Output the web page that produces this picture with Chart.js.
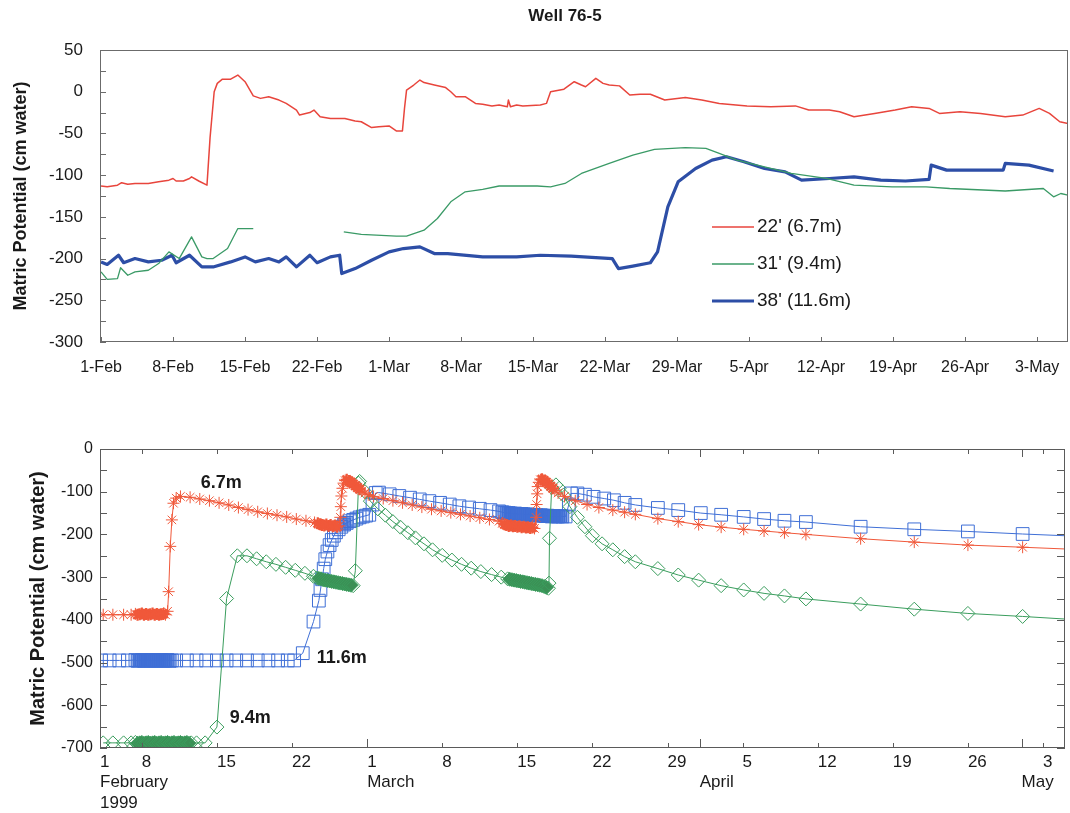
<!DOCTYPE html>
<html>
<head>
<meta charset="utf-8">
<title>Well 76-5 - Matric Potential</title>
<script src="https://cdn.jsdelivr.net/npm/chart.js@4.4.1/dist/chart.umd.min.js"></script>
<style>
  html, body { margin: 0; padding: 0; background: #fff; overflow: hidden; }
  #wrap { position: relative; width: 1070px; height: 813px; overflow: hidden; }
  canvas { position: absolute; left: 0; }
  #topo { top: 0; }
  #baixo { top: 400px; }
</style>
</head>
<body>
<div id="wrap">
  <canvas id="topo" width="1070" height="400"></canvas>
  <canvas id="baixo" width="1076" height="413"></canvas>
</div>
<script>
// ---- painel de cima: medidas (dias contados a partir de 1-Feb) ----
const topoDias22 = [0, 0.6, 1.6, 2.0, 2.6, 3.3, 4.6, 5.6, 6.6, 7.0, 7.3, 8.0, 8.6, 8.8, 9.5, 10.3, 10.6, 11.0, 11.3, 11.8, 12.6, 13.3, 14.0, 14.8, 15.5, 16.3, 17.3, 18.0, 19.0, 19.3, 20.3, 20.7, 21.3, 22.3, 23.7, 24.7, 25.3, 26.3, 27.0, 28.0, 28.7, 29.3, 29.5, 29.7, 30.4, 31.0, 31.4, 32.4, 33.5, 34.0, 34.5, 35.4, 36.4, 37.1, 38.0, 38.7, 39.5, 39.6, 39.8, 40.4, 41.0, 42.7, 43.3, 43.7, 45.0, 46.0, 46.7, 47.1, 48.1, 48.8, 49.4, 50.4, 51.4, 52.4, 53.4, 54.8, 56.8, 58.4, 60.1, 62.8, 65.1, 67.5, 68.8, 70.8, 71.8, 73.2, 75.2, 77.2, 78.8, 80.5, 81.5, 83.5, 85.5, 87.9, 89.6, 91.2, 92.2, 93.2, 94.0];
const topoValores22 = [-113, -114, -112, -109, -111, -110, -110, -108, -106, -104, -107, -107, -104, -102, -107, -112, -55, 0, 10, 15, 15, 20, 12, -5, -8, -6, -10, -14, -22, -28, -25, -22, -30, -32, -32, -35, -36, -43, -42, -41, -47, -47, -20, 2, 8, 14, 11, 8, 5, 0, -6, -6, -14, -15, -17, -16, -18, -10, -18, -16, -17, -16, -14, 0, 3, 12, 8, 6, 16, 10, 8, 7, -4, -3, -3, -10, -7, -10, -14, -17, -18, -17, -22, -22, -24, -30, -26, -22, -18, -20, -26, -24, -26, -30, -28, -20, -26, -36, -38];

const topoDias31 = [0, 0.6, 1.6, 1.9, 2.6, 3.3, 4.6, 5.6, 6.6, 7.6, 8.8, 9.8, 10.3, 10.9, 12.3, 13.3, 14.8, 14.9, 23.6, 25.3, 28.7, 29.7, 31.4, 32.7, 34.0, 35.4, 37.1, 38.7, 42.4, 43.7, 45.1, 46.7, 49.4, 51.7, 53.8, 56.8, 58.8, 60.1, 61.8, 64.5, 67.1, 70.5, 73.2, 76.9, 80.2, 82.5, 87.9, 91.6, 92.6, 93.3, 94.0];
const topoValores31 = [-216, -225, -224, -211, -220, -216, -214, -206, -192, -200, -174, -198, -200, -200, -188, -164, -164, null, -168, -171, -173, -173, -166, -152, -132, -120, -117, -113, -113, -114, -110, -98, -86, -76, -69, -67, -68, -74, -82, -90, -98, -104, -112, -114, -114, -116, -119, -116, -126, -122, -124];

const topoDias38 = [0, 0.6, 1.7, 2.2, 3.3, 4.6, 5.9, 6.9, 7.3, 8.6, 9.8, 10.9, 12.6, 14.0, 15.0, 16.3, 17.3, 18.0, 19.0, 20.3, 21.0, 22.3, 23.2, 23.4, 24.7, 26.3, 28.0, 29.4, 31.0, 32.4, 33.7, 37.1, 40.4, 42.7, 45.7, 49.7, 50.3, 51.7, 53.4, 54.1, 55.1, 56.1, 57.8, 59.4, 60.8, 62.5, 64.5, 66.5, 68.1, 70.8, 73.2, 75.8, 78.2, 80.5, 80.7, 82.2, 85.2, 87.7, 87.9, 90.2, 92.6];
const topoValores38 = [-204, -207, -196, -205, -200, -204, -202, -196, -205, -196, -210, -210, -204, -198, -204, -200, -204, -198, -210, -196, -205, -198, -196, -218, -212, -202, -192, -188, -186, -194, -194, -198, -198, -196, -197, -200, -212, -209, -205, -192, -138, -108, -92, -82, -78, -84, -92, -96, -106, -104, -102, -106, -107, -105, -88, -94, -94, -94, -86, -88, -95];

const topoTickDias = [0, 7, 14, 21, 28, 35, 42, 49, 56, 63, 70, 77, 84, 91];
const topoTickRotulos = ['1-Feb', '8-Feb', '15-Feb', '22-Feb', '1-Mar', '8-Mar', '15-Mar', '22-Mar', '29-Mar', '5-Apr', '12-Apr', '19-Apr', '26-Apr', '3-May'];

// ---- painel de baixo: modelo ----
const baixoDias67 = [3.4, 4.3, 5.3, 6.0,
  6.4, 6.6, 6.8, 7.0, 7.2, 7.4, 7.6, 7.8, 8.0, 8.2, 8.4, 8.6, 8.8, 9.0, 9.2,
  9.4, 9.5, 9.65, 9.8, 9.95, 10.2, 10.6,
  11.5, 12.4, 13.3, 14.2, 15.1, 16.0, 16.9, 17.8, 18.7, 19.6, 20.5, 21.4, 22.3, 23.1,
  23.4, 23.6, 23.8, 24.0, 24.2, 24.4, 24.6, 24.8, 25.0, 25.2, 25.4,
  25.5, 25.55, 25.6, 25.7, 25.8, 25.95, 26.1, 26.3, 26.5, 26.7, 26.9, 27.1, 27.3, 27.5, 27.8, 28.1,
  28.6, 29.5, 30.4, 31.3, 32.2, 33.1, 34.0, 34.9, 35.8, 36.7, 37.6, 38.5, 39.4, 40.3,
  40.6, 40.8, 41.0, 41.2, 41.4, 41.6, 41.8, 42.0, 42.2, 42.4, 42.6, 42.8, 43.0, 43.2, 43.4, 43.6,
  43.75, 43.8, 43.85, 43.9, 44.0, 44.15, 44.3, 44.5, 44.7, 44.9, 45.1, 45.3, 45.5, 45.8,
  46.4, 47.4, 48.5, 49.6, 50.9, 52.0, 53.0, 55.1, 57.0, 58.9, 61.0, 63.1, 65.0, 66.9, 68.9, 74.0, 79.0, 84.0, 89.1, 93.0];
const baixoValores67 = [-388, -388, -388, -388,
  -386, -388, -387, -385, -388, -386, -388, -387, -385, -388, -386, -388, -387, -386, -388,
  -380, -334, -228, -166, -127, -115, -111,
  -113, -117, -121, -126, -131, -137, -142, -147, -151, -155, -159, -164, -168, -172,
  -174, -176, -178, -179, -177, -180, -178, -181, -179, -182, -180,
  -160, -135, -110, -92, -80, -74, -72, -75, -78, -82, -86, -90, -94, -98, -103, -107,
  -111, -116, -121, -126, -131, -136, -141, -145, -149, -153, -157, -161, -165, -169,
  -174, -176, -178, -180, -179, -181, -180, -182, -181, -183, -182, -184, -183, -185, -184, -186,
  -160, -130, -105, -88, -78, -72, -71, -74, -78, -82, -87, -92, -97, -103,
  -111, -121, -130, -137, -143, -148, -153, -163, -170, -177, -183, -188, -192, -196, -200, -210, -218, -225, -230, -234];

const baixoDias116 = [3.2, 4.0, 4.9, 5.7,
  6.4, 6.6, 6.8, 7.0, 7.2, 7.4, 7.6, 7.8, 8.0, 8.2, 8.4, 8.6, 8.8, 9.0, 9.2, 9.4, 9.6, 9.8,
  10.2, 11.2, 12.1, 13.0, 14.0, 14.9, 15.8, 16.8, 17.8, 18.8, 19.7, 20.6, 21.2,
  22.0, 23.0, 23.5,
  23.65, 23.8, 23.95, 24.1, 24.3, 24.5, 24.7, 24.9, 25.1, 25.35, 25.6, 25.85, 26.1, 26.4, 26.7, 27.0, 27.3, 27.6, 27.9, 28.2,
  28.5, 28.8, 29.1,
  30.1, 31.0, 32.0, 32.9, 33.8, 34.8, 35.7, 36.6, 37.5, 38.5, 39.5, 40.3,
  40.6, 40.8, 41.0, 41.2, 41.4, 41.6, 41.8, 42.0, 42.2, 42.4, 42.6, 42.8, 43.0, 43.2, 43.4, 43.6, 43.8, 44.0, 44.2, 44.4, 44.6, 44.8, 45.0, 45.2, 45.4, 45.6, 45.8, 46.0, 46.2,
  46.5, 46.8, 47.0, 47.6, 48.3, 49.1, 50.1, 51.0, 52.0, 53.0, 55.1, 57.0, 59.1, 61.0, 63.1, 65.0, 66.9, 68.9, 74.0, 79.0, 84.0, 89.1, 93.0];
const baixoValores116 = [-495, -495, -495, -495,
  -494, -496, -495, -494, -496, -495, -494, -496, -495, -494, -496, -495, -494, -496, -495, -494, -496, -495,
  -495, -495, -495, -495, -495, -495, -495, -495, -495, -495, -495, -495, -495,
  -478, -404, -355,
  -330, -305, -280, -258, -240, -225, -213, -203, -195, -188, -182, -177, -173, -169, -166, -163, -160, -158, -156, -154,
  -130, -103, -102,
  -106, -110, -114, -118, -122, -126, -130, -134, -137, -140, -143, -146,
  -148, -149, -150, -150, -151, -152, -151, -152, -153, -152, -153, -154, -153, -154, -155, -154, -155, -156, -155, -156, -157, -156, -157, -158, -157, -158, -158, -157, -158,
  -158, -130, -104, -104, -107, -112, -116, -120, -126, -131, -138, -143, -150, -154, -159, -164, -168, -171, -182, -188, -193, -199, -203];

const baixoDias94 = [3.4, 4.3, 5.3, 6.0,
  6.4, 6.6, 6.8, 7.0, 7.2, 7.4, 7.6, 7.8, 8.0, 8.2, 8.4, 8.6, 8.8, 9.0, 9.2, 9.4, 9.6, 9.8, 10.0, 10.2, 10.4, 10.6, 10.8, 11.0, 11.2, 11.4, 11.6,
  12.1, 12.9, 14.0, 14.9, 15.9,
  16.8, 17.7, 18.6, 19.5, 20.4, 21.3, 22.2, 23.0,
  23.3, 23.5, 23.7, 23.9, 24.1, 24.3, 24.5, 24.7, 24.9, 25.1, 25.3, 25.5, 25.7, 25.9, 26.1, 26.3, 26.5, 26.7,
  26.9, 27.2, 27.3,
  27.8, 28.3, 29.0, 29.7, 30.4, 31.1, 31.8, 32.5, 33.3, 34.1, 35.0, 35.9, 36.8, 37.7, 38.6, 39.6, 40.5,
  41.1, 41.3, 41.5, 41.7, 41.9, 42.1, 42.3, 42.5, 42.7, 42.9, 43.1, 43.3, 43.5, 43.7, 43.9, 44.1, 44.3, 44.5, 44.7, 44.9,
  44.95, 45.0, 45.2, 45.6, 45.9, 46.3, 46.9, 47.6, 48.3, 49.0, 49.9, 50.9, 52.0, 53.0, 55.1, 57.0, 58.9, 61.0, 63.1, 65.0, 66.9, 68.9, 74.0, 79.0, 84.0, 89.1, 93.0];
const baixoValores94 = [-688, -688, -688, -688,
  -687, -689, -688, -687, -689, -688, -687, -689, -688, -687, -689, -688, -687, -689, -688, -687, -689, -688, -687, -689, -688, -687, -689, -688, -687, -689, -688,
  -688, -688, -651, -350, -250,
  -250, -257, -264, -270, -277, -284, -291, -298,
  -302, -303, -304, -306, -307, -308, -309, -310, -311, -312, -313, -314, -315, -316, -317, -318, -319, -320,
  -285, -80, -76,
  -100, -122, -140, -155, -170, -183, -196, -208, -222, -236, -249, -260, -270, -279, -287, -294, -300,
  -304, -305, -306, -307, -308, -309, -310, -311, -312, -313, -314, -315, -316, -317, -318, -319, -320, -322, -324, -326,
  -314, -209, -90, -84, -92, -108, -135, -160, -182, -203, -222, -236, -252, -264, -280, -295, -307, -320, -330, -338, -344, -351, -363, -375, -385, -392, -398];

const baixoTickDias = [3.1, 7, 14, 21, 28, 35, 42, 49, 56, 59, 63, 70, 77, 84, 89, 91];
const baixoTickRotulos = [['1', 'February', '1999'], ['8'], ['15'], ['22'], ['1', 'March'], ['8'], ['15'], ['22'], ['29'], ['', 'April'], ['5'], ['12'], ['19'], ['26'], ['', 'May'], ['3']];
const inicioDosMeses = [28, 59, 89];

// ---- configuracao geral ----
const fonte = '"Liberation Sans", Arial, Helvetica, sans-serif';
Chart.defaults.font.family = fonte;
Chart.defaults.color = '#1a1a1a';

function pares(dias, valores) {
  return dias.map((d, i) => ({ x: d, y: valores[i] }));
}

// ponto dentro de um bloco de saidas muito proximas (ficam como mancha cheia)
function denso(c) {
  const d = c.dataset.data, i = c.dataIndex;
  const p = d[i - 1], a = d[i], n = d[i + 1];
  if (!p || !a || !n) return false;
  return a.x - p.x < 0.3 && n.x - a.x < 0.3 && Math.abs(a.y - p.y) < 6 && Math.abs(n.y - a.y) < 6;
}

// o ultimo valor so prolonga a linha ate a borda, sem marcador
function raio(r) {
  return c => (c.dataIndex === c.dataset.data.length - 1 ? 0 : r);
}

// moldura do grafico e tracinhos dos ticks para dentro
const moldura = {
  id: 'moldura',
  afterDraw(chart, args, o) {
    const { ctx, chartArea: a, scales: { x, y } } = chart;
    ctx.save();
    ctx.strokeStyle = o.cor;
    ctx.lineWidth = 1;
    ctx.beginPath();
    x.ticks.forEach(t => {
      if (t.value <= x.min || t.value >= x.max) return;
      const px = Math.round(x.getPixelForValue(t.value)) + 0.5;
      const longo = o.meses && o.meses.includes(t.value);
      const lb = longo ? o.baixoLongo : o.baixo;
      const lt = longo ? o.topoLongo : o.topo;
      if (lb) { ctx.moveTo(px, a.bottom); ctx.lineTo(px, a.bottom - lb); }
      if (lt) { ctx.moveTo(px, a.top); ctx.lineTo(px, a.top + lt); }
    });
    y.ticks.forEach(t => {
      const py = Math.round(y.getPixelForValue(t.value)) + 0.5;
      if (o.esquerda) { ctx.moveTo(a.left, py); ctx.lineTo(a.left + o.esquerda, py); }
      if (o.direita) { ctx.moveTo(a.right, py); ctx.lineTo(a.right - o.direita, py); }
    });
    ctx.stroke();
    ctx.strokeRect(Math.round(a.left) + 0.5, Math.round(a.top) + 0.5, Math.round(a.width) - 1, Math.round(a.height) - 1);
    ctx.restore();
  }
};

// legenda e titulo do painel de cima
const legendaTopo = {
  id: 'legendaTopo',
  afterDraw(chart, args, o) {
    const ctx = chart.ctx;
    ctx.save();
    ctx.font = '19px ' + fonte;
    ctx.textBaseline = 'middle';
    chart.data.datasets.forEach((ds, i) => {
      const y = o.y + i * o.passo;
      ctx.strokeStyle = ds.borderColor;
      ctx.lineWidth = ds.borderWidth;
      ctx.beginPath();
      ctx.moveTo(o.x, y);
      ctx.lineTo(o.x + o.comp, y);
      ctx.stroke();
      ctx.fillStyle = '#1a1a1a';
      ctx.fillText(ds.label, o.x + o.comp + 3, y);
    });
    ctx.font = 'bold 17px ' + fonte;
    ctx.textAlign = 'center';
    ctx.fillText(o.titulo, o.tituloX, o.tituloY);
    ctx.restore();
  }
};

// rotulos de profundidade do painel de baixo (em coordenadas dos dados)
const rotulosProf = {
  id: 'rotulosProf',
  afterDraw(chart, args, o) {
    const { ctx, scales: { x, y } } = chart;
    ctx.save();
    ctx.font = 'bold 18px ' + fonte;
    ctx.fillStyle = '#1a1a1a';
    ctx.textBaseline = 'middle';
    o.itens.forEach(r => ctx.fillText(r.texto, x.getPixelForValue(r.dia), y.getPixelForValue(r.valor)));
    ctx.restore();
  }
};

// ---- grafico de cima ----
new Chart(document.getElementById('topo'), {
  type: 'line',
  data: {
    datasets: [
      { label: "22' (6.7m)", data: pares(topoDias22, topoValores22), borderColor: '#e8453c', borderWidth: 1.5 },
      { label: "31' (9.4m)", data: pares(topoDias31, topoValores31), borderColor: '#3a9a66', borderWidth: 1.3 },
      { label: "38' (11.6m)", data: pares(topoDias38, topoValores38), borderColor: '#2d4ea6', borderWidth: 3.2 }
    ]
  },
  options: {
    responsive: false,
    animation: false,
    layout: { padding: { top: 50, right: 2, left: 0, bottom: 0 } },
    elements: { point: { radius: 0 }, line: { tension: 0, borderJoinStyle: 'round' } },
    plugins: {
      legend: { display: false },
      tooltip: { enabled: false },
      moldura: { cor: '#6b6b6b', baixo: 5, esquerda: 6 },
      legendaTopo: { x: 712, y: 227, passo: 37, comp: 42, titulo: 'Well 76-5', tituloX: 565, tituloY: 16 }
    },
    scales: {
      x: {
        type: 'linear', min: -0.1, max: 94,
        grid: { display: false, drawTicks: false }, border: { display: false },
        afterBuildTicks: s => { s.ticks = topoTickDias.map(v => ({ value: v })); },
        afterFit: s => { s.height = 58; s.paddingLeft = 0; s.paddingRight = 0; },
        ticks: { autoSkip: false, maxRotation: 0, padding: 16, font: { size: 16 }, callback: (v, i) => topoTickRotulos[i] }
      },
      y: {
        min: -300, max: 50,
        grid: { display: false, drawTicks: false }, border: { display: false },
        afterFit: s => { s.width = 100; s.paddingTop = 0; s.paddingBottom = 0; },
        ticks: { stepSize: 25, autoSkip: false, padding: 17, font: { size: 17 }, callback: v => (v % 50 === 0 ? String(v) : '') },
        title: { display: true, text: 'Matric Potential (cm water)', font: { size: 18, weight: 'bold' }, padding: { top: 10, bottom: 0 } }
      }
    }
  },
  plugins: [moldura, legendaTopo]
});

// ---- grafico de baixo ----
new Chart(document.getElementById('baixo'), {
  type: 'line',
  data: {
    datasets: [
      { label: '6.7m', data: pares(baixoDias67, baixoValores67), borderColor: '#f0583a', pointStyle: 'star', pointRadius: raio(6),
        pointBorderColor: '#f0583a', pointBackgroundColor: 'rgba(0,0,0,0)',
        pointBorderWidth: c => (denso(c) ? 2.2 : 1) },
      { label: '9.4m', data: pares(baixoDias94, baixoValores94), borderColor: '#3a9d5d', pointStyle: 'rectRot', pointRadius: raio(7),
        pointBorderColor: '#3a9d5d', pointBackgroundColor: c => (denso(c) ? '#3b8f55' : 'rgba(255,255,255,0)') },
      { label: '11.6m', data: pares(baixoDias116, baixoValores116), borderColor: '#3f6fd6', pointStyle: 'rect', pointRadius: raio(9),
        pointBorderColor: '#3f6fd6', pointBackgroundColor: c => (denso(c) ? 'rgba(63,111,214,0.55)' : 'rgba(255,255,255,0)') }
    ]
  },
  options: {
    responsive: false,
    animation: false,
    layout: { padding: { top: 49, right: 11, left: 0, bottom: 0 } },
    elements: { line: { tension: 0, borderWidth: 1 }, point: { borderWidth: 1 } },
    plugins: {
      legend: { display: false },
      tooltip: { enabled: false },
      moldura: { cor: '#5a5a5a', baixo: 5, baixoLongo: 9, topo: 5, topoLongo: 8, esquerda: 7, direita: 8, meses: inicioDosMeses },
      rotulosProf: { itens: [
        { texto: '6.7m', dia: 12.5, valor: -79 },
        { texto: '11.6m', dia: 23.3, valor: -490 },
        { texto: '9.4m', dia: 15.2, valor: -630 }
      ] }
    },
    scales: {
      x: {
        type: 'linear', min: 3.1, max: 93.05,
        grid: { display: false, drawTicks: false }, border: { display: false },
        afterBuildTicks: s => { s.ticks = baixoTickDias.map(v => ({ value: v })); },
        afterFit: s => { s.height = 65; s.paddingLeft = 0; s.paddingRight = 0; },
        ticks: { autoSkip: false, maxRotation: 0, align: 'start', padding: 4, font: { size: 17 }, callback: (v, i) => baixoTickRotulos[i] }
      },
      y: {
        min: -700, max: 0,
        grid: { display: false, drawTicks: false }, border: { display: false },
        afterFit: s => { s.width = 100; s.paddingTop = 0; s.paddingBottom = 0; },
        ticks: { stepSize: 50, autoSkip: false, padding: 7, font: { size: 16 }, callback: v => (v % 100 === 0 ? String(v) : '') },
        title: { display: true, text: 'Matric Potential (cm water)', font: { size: 20, weight: 'bold' }, padding: { top: 26, bottom: 0 } }
      }
    }
  },
  plugins: [moldura, rotulosProf]
});
</script>
</body>
</html>
